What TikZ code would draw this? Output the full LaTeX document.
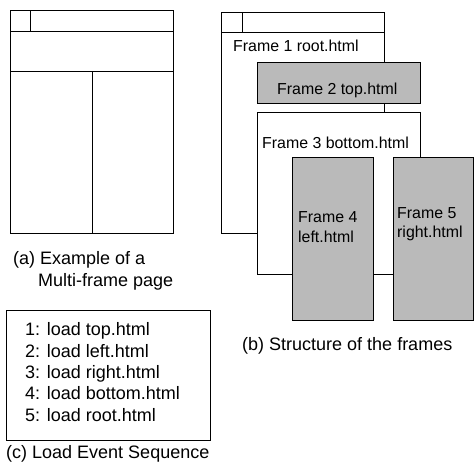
\documentclass[tikz,border=0pt]{standalone}
\usepackage{fontspec}
\setmainfont{Liberation Sans}
\begin{document}
\begin{tikzpicture}[x=1pt,y=-1pt,
  frm/.style={draw=black,line width=0.9pt},
  shaded/.style={frm,fill=black!27},
  plain/.style={frm,fill=white},
  lbl/.style={inner sep=0pt,anchor=base west,font=\fontsize{15.9}{19}\selectfont},
  captxt/.style={inner sep=0pt,anchor=base west,font=\fontsize{18}{21}\selectfont},
  lst/.style={inner sep=0pt,anchor=base west,font=\fontsize{18}{21}\selectfont}]
\useasboundingbox (0,0) rectangle (475,463);
% (a) multi-frame page
\draw[plain] (10,10) rectangle (173,233);
\draw[frm] (10,31) -- (173,31);
\draw[frm] (10,71) -- (173,71);
\draw[frm] (30.5,10) -- (30.5,31);
\draw[frm] (92,71) -- (92,233);
\node[captxt] (capa1) at (13,264) {(a) Example of a};
\node[captxt] (capa2) at (38,286) {Multi-frame page};
% (b) structure of the frames
\draw[plain] (221,12) rectangle (384,233);
\draw[frm] (221,32) -- (384,32);
\draw[frm] (242,12) -- (242,32);
\node[lbl] (f1) at (233,52) {Frame 1 root.html};
\draw[shaded] (257,62) rectangle (420,103);
\node[lbl] (f2) at (277,94) {Frame 2 top.html};
\draw[plain] (257,112) rectangle (420,274);
\node[lbl] (f3) at (262,148) {Frame 3 bottom.html};
\draw[shaded] (292,157) rectangle (373,320);
\node[lbl] (f4a) at (298,222) {Frame 4};
\node[lbl] (f4b) at (298,242) {left.html};
\draw[shaded] (393,157) rectangle (473,320);
\node[lbl] (f5a) at (397,218) {Frame 5};
\node[lbl] (f5b) at (397,237) {right.html};
\node[captxt] (capb) at (242,350) {(b) Structure of the frames};
% (c) load event sequence
\draw[plain] (6,310) rectangle (210,440);
\node[lst] (l1) at (25,335) {1: load top.html};
\node[lst] (l2) at (25,357) {2: load left.html};
\node[lst] (l3) at (25,378) {3: load right.html};
\node[lst] (l4) at (25,399) {4: load bottom.html};
\node[lst] (l5) at (25,421) {5: load root.html};
\node[captxt] (capc) at (6,458) {(c) Load Event Sequence};
\end{tikzpicture}
\end{document}
